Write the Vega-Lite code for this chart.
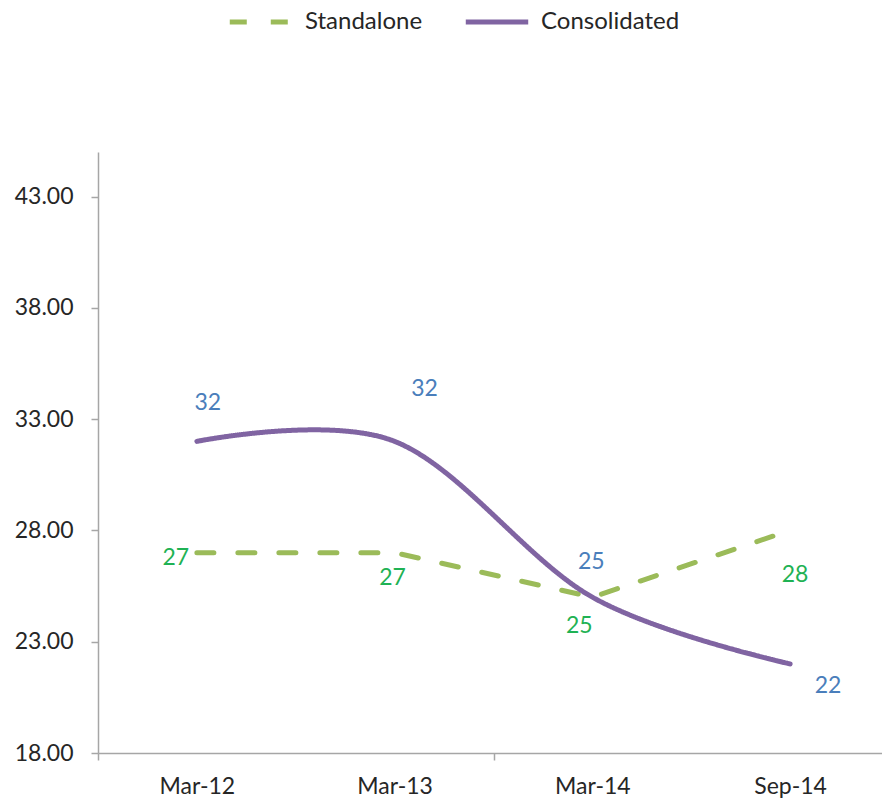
{
  "$schema": "https://vega.github.io/schema/vega-lite/v6.json",
  "autosize": {"type": "none"},
  "width": 791,
  "height": 601,
  "padding": {"left": 98, "top": 152, "right": 0, "bottom": 48},
  "background": "white",
  "config": {
    "view": {"stroke": null},
    "font": "Lato",
    "axis": {"labelFont": "Lato", "labelFontSize": 23, "labelColor": "#262626", "domainColor": "#a6a6a6", "tickColor": "#a6a6a6", "domainWidth": 1.5, "tickWidth": 1.5, "grid": false, "title": null}
  },
  "data": {
    "values": [
      {"month": "Mar-12", "series": "Standalone", "value": 27},
      {"month": "Mar-13", "series": "Standalone", "value": 27},
      {"month": "Mar-14", "series": "Standalone", "value": 25},
      {"month": "Sep-14", "series": "Standalone", "value": 28},
      {"month": "Mar-12", "series": "Consolidated", "value": 32},
      {"month": "Mar-13", "series": "Consolidated", "value": 32},
      {"month": "Mar-14", "series": "Consolidated", "value": 25},
      {"month": "Sep-14", "series": "Consolidated", "value": 22}
    ]
  },
  "encoding": {
    "x": {"field": "month", "type": "nominal", "sort": null, "scale": {"paddingInner": 0, "paddingOuter": 0},
      "axis": {"orient": "bottom", "labelAngle": 0, "tickOffset": -98.875, "labelOffset": 98.875, "tickSize": 7, "labelPadding": 15, "domain": true,
        "tickOpacity": {"condition": {"test": "datum.value == 'Mar-13' || datum.value == 'Sep-14'", "value": 0}, "value": 1}}},
    "y": {"field": "value", "type": "quantitative", "scale": {"domain": [18, 45], "nice": false, "zero": false},
      "axis": {"values": [18, 23, 28, 33, 38, 43], "format": ".2f", "tickSize": 7, "labelPadding": 18}}
  },
  "layer": [
    {
      "transform": [{"filter": "datum.series == 'Standalone'"}],
      "mark": {"type": "line", "strokeWidth": 5, "strokeCap": "round"},
      "encoding": {
        "color": {"field": "series", "type": "nominal", "scale": {"domain": ["Standalone", "Consolidated"], "range": ["#9bbb59", "#8064a2"]},
          "legend": {"title": null, "orient": "none", "direction": "horizontal", "legendX": 129, "legendY": -164, "symbolType": "stroke", "symbolStrokeWidth": 5, "symbolSize": 3900, "labelFont": "Lato", "labelFontSize": 24, "labelColor": "#262626", "labelOffset": 10, "columnPadding": 32, "padding": 0}},
        "strokeDash": {"field": "series", "type": "nominal", "scale": {"domain": ["Standalone", "Consolidated"], "range": [[17, 24], [1, 0]]},
          "legend": {"title": null, "orient": "none", "direction": "horizontal", "legendX": 129, "legendY": -164, "symbolType": "stroke", "symbolStrokeWidth": 5, "symbolSize": 3900, "labelFont": "Lato", "labelFontSize": 24, "labelColor": "#262626", "labelOffset": 10, "columnPadding": 32, "padding": 0}}
      }
    },
    {
      "transform": [{"filter": "datum.series == 'Consolidated'"}],
      "mark": {"type": "line", "strokeWidth": 5, "strokeCap": "round", "interpolate": "cardinal", "tension": 0},
      "encoding": {
        "color": {"field": "series", "type": "nominal"},
        "strokeDash": {"field": "series", "type": "nominal"}
      }
    },
    {"transform": [{"filter": "datum.series == 'Consolidated' && datum.month == 'Mar-12'"}], "mark": {"type": "text", "fontSize": 23, "font": "Lato", "color": "#4a7ebb", "dx": 11, "dy": -38}, "encoding": {"text": {"field": "value", "format": ".0f"}}},
    {"transform": [{"filter": "datum.series == 'Consolidated' && datum.month == 'Mar-13'"}], "mark": {"type": "text", "fontSize": 23, "font": "Lato", "color": "#4a7ebb", "dx": 30, "dy": -52}, "encoding": {"text": {"field": "value", "format": ".0f"}}},
    {"transform": [{"filter": "datum.series == 'Consolidated' && datum.month == 'Mar-14'"}], "mark": {"type": "text", "fontSize": 23, "font": "Lato", "color": "#4a7ebb", "dx": -1, "dy": -35}, "encoding": {"text": {"field": "value", "format": ".0f"}}},
    {"transform": [{"filter": "datum.series == 'Consolidated' && datum.month == 'Sep-14'"}], "mark": {"type": "text", "fontSize": 23, "font": "Lato", "color": "#4a7ebb", "dx": 38, "dy": 22}, "encoding": {"text": {"field": "value", "format": ".0f"}}},
    {"transform": [{"filter": "datum.series == 'Standalone' && datum.month == 'Mar-12'"}], "mark": {"type": "text", "fontSize": 23, "font": "Lato", "color": "#1fb254", "dx": -21, "dy": 5}, "encoding": {"text": {"field": "value", "format": ".0f"}}},
    {"transform": [{"filter": "datum.series == 'Standalone' && datum.month == 'Mar-13'"}], "mark": {"type": "text", "fontSize": 23, "font": "Lato", "color": "#1fb254", "dx": -2, "dy": 25}, "encoding": {"text": {"field": "value", "format": ".0f"}}},
    {"transform": [{"filter": "datum.series == 'Standalone' && datum.month == 'Mar-14'"}], "mark": {"type": "text", "fontSize": 23, "font": "Lato", "color": "#1fb254", "dx": -13, "dy": 29}, "encoding": {"text": {"field": "value", "format": ".0f"}}},
    {"transform": [{"filter": "datum.series == 'Standalone' && datum.month == 'Sep-14'"}], "mark": {"type": "text", "fontSize": 23, "font": "Lato", "color": "#1fb254", "dx": 5, "dy": 45}, "encoding": {"text": {"field": "value", "format": ".0f"}}}
  ]
}
